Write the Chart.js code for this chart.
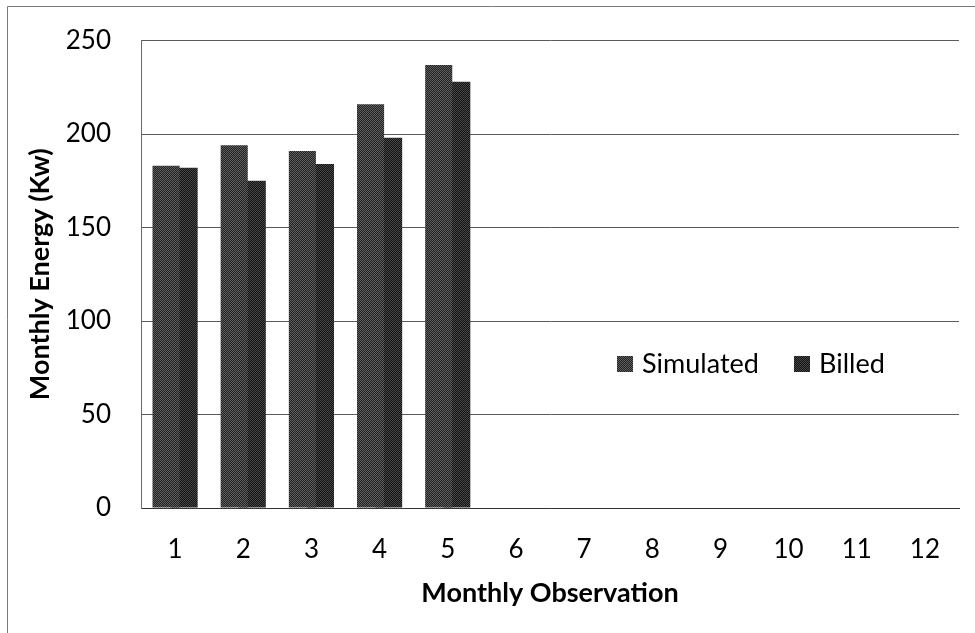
<!DOCTYPE html>
<html>
<head>
<meta charset="utf-8">
<script src="https://cdn.jsdelivr.net/npm/chart.js@4.4.1/dist/chart.umd.min.js"></script>
<style>
  html, body { margin: 0; padding: 0; background: #fff; }
  #wrap { width: 975px; height: 633px; position: relative; }
</style>
</head>
<body>
<div id="wrap"><canvas id="c" width="975" height="633"></canvas></div>
<script>
// Monthly observations and energy readings (Kw)
const months = ['1', '2', '3', '4', '5', '6', '7', '8', '9', '10', '11', '12'];
const simulated = [183, 194, 191, 216, 237, null, null, null, null, null, null, null];
const billed = [182, 175, 184, 198, 228, null, null, null, null, null, null, null];
const seriesNames = ['Simulated', 'Billed'];
const yTicks = [0, 50, 100, 150, 200, 250];

const FONT = 'Lato, "Open Sans", "DejaVu Sans", sans-serif';

// Small checker tile giving the halftone look of the printed bars
function checker(a, b) {
  const t = document.createElement('canvas');
  t.width = 2; t.height = 2;
  const g = t.getContext('2d');
  g.fillStyle = a; g.fillRect(0, 0, 2, 2);
  g.fillStyle = b; g.fillRect(0, 0, 1, 1); g.fillRect(1, 1, 1, 1);
  return g.createPattern(t, 'repeat');
}
const simFill = checker('#222222', '#5e5e5e');
const billFill = checker('#141414', '#464646');

// Outer frame lines along the top and left edges
const framePlugin = {
  id: 'frame',
  beforeDraw(chart) {
    const ctx = chart.ctx;
    ctx.save();
    ctx.strokeStyle = '#7a7a7a';
    ctx.lineWidth = 1;
    ctx.beginPath();
    ctx.moveTo(7.5, chart.height);
    ctx.lineTo(7.5, 6.5);
    ctx.lineTo(chart.width, 6.5);
    ctx.stroke();
    ctx.restore();
  }
};

// Legend drawn inside the plot area, right of the bars
const insideLegend = {
  id: 'insideLegend',
  afterDraw(chart) {
    const ctx = chart.ctx;
    const area = chart.chartArea;
    const y = area.bottom - 144;
    const starts = [area.left + 476, area.left + 653];
    ctx.save();
    ctx.font = '27px ' + FONT;
    ctx.textBaseline = 'middle';
    ctx.textAlign = 'left';
    chart.data.datasets.forEach((ds, i) => {
      const x = starts[i];
      ctx.fillStyle = ds.backgroundColor;
      ctx.fillRect(x, y - 8, 16, 16);
      ctx.fillStyle = '#000';
      ctx.fillText(ds.label, x + 25, y);
    });
    ctx.restore();
  }
};

new Chart(document.getElementById('c'), {
  type: 'bar',
  data: {
    labels: months,
    datasets: [
      { label: seriesNames[0], data: simulated, backgroundColor: simFill, barPercentage: 1.5, categoryPercentage: 0.53 },
      { label: seriesNames[1], data: billed, backgroundColor: billFill, barPercentage: 1.5, categoryPercentage: 0.53 }
    ]
  },
  options: {
    responsive: false,
    animation: false,
    devicePixelRatio: 1,
    layout: { padding: { left: 0, top: 32, right: 16, bottom: 0 } },
    plugins: {
      legend: { display: false },
      tooltip: { enabled: false }
    },
    scales: {
      x: {
        grid: { display: false, drawTicks: false },
        border: { display: true, color: '#333', width: 1 },
        ticks: { color: '#000', font: { family: FONT, size: 26 }, padding: 26, maxRotation: 0 },
        title: {
          display: true, text: 'Monthly Observation', color: '#000',
          font: { family: FONT, size: 27, weight: 'bold' }, padding: { top: 0, bottom: 24 }
        },
        afterFit(s) { s.height = 125; }
      },
      y: {
        min: 0, max: 250,
        afterBuildTicks(s) { s.ticks = yTicks.map(v => ({ value: v })); },
        grid: { color: '#5a5a5a', lineWidth: 1, drawTicks: true, tickLength: 5, tickColor: 'rgba(0,0,0,0)' },
        border: { display: true, color: '#6a6a6a', width: 1 },
        ticks: { color: '#000', font: { family: FONT, size: 26 }, padding: 25 },
        title: {
          display: true, text: 'Monthly Energy (Kw)', color: '#000',
          font: { family: FONT, size: 27, weight: 'bold' }, padding: { top: 24, bottom: 0 }
        },
        afterFit(s) { s.width = 141; }
      }
    }
  },
  plugins: [framePlugin, insideLegend]
});
</script>
</body>
</html>
